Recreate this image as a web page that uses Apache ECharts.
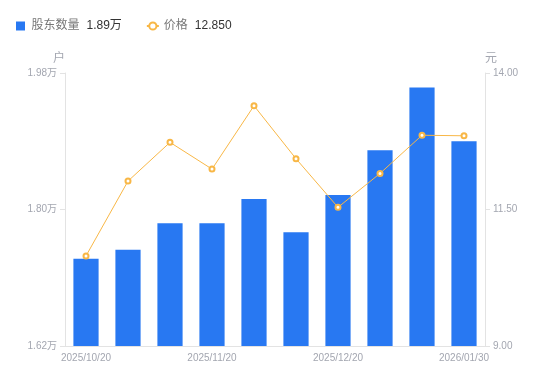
<!DOCTYPE html>
<html><head><meta charset="utf-8">
<script src="https://cdn.jsdelivr.net/npm/echarts@6/dist/echarts.min.js"></script>
<style>html,body{margin:0;padding:0;background:#fff}#c{width:550px;height:381px}</style>
</head><body><div id="c"></div>
<script>
const categories = ['2025/10/20','2025/10/31','2025/11/10','2025/11/20','2025/11/30','2025/12/10','2025/12/20','2025/12/31','2026/01/20','2026/01/30'];
const holders = [17350, 17470, 17820, 17820, 18140, 17700, 18190, 18780, 19610, 18900];
const prices = [10.65, 12.02, 12.73, 12.24, 13.40, 12.43, 11.54, 12.16, 12.86, 12.85];
const holderName = '股东数量';
const priceName = '价格';
const holderUnit = '户';
const priceUnit = '元';

const font = "Arial, 'Liberation Sans', 'Noto Sans CJK SC', sans-serif";
const chart = echarts.init(document.getElementById('c'), null, {renderer: 'canvas'});
const lastHolder = (holders[holders.length - 1] / 10000).toFixed(2) + '万';
const lastPrice = prices[prices.length - 1].toFixed(3);
chart.setOption({
  animation: false,
  textStyle: {fontFamily: font},
  legend: {
    left: 11, top: 15,
    itemWidth: 12, itemHeight: 9, itemGap: 24,
    symbolKeepAspect: true,
    data: [
      {name: holderName, icon: 'path://M0 0H9V9H0Z'},
      {name: priceName}
    ],
    formatter: function (n) {
      return '{n|' + n + '}{v|' + (n === holderName ? lastHolder : lastPrice) + '}';
    },
    textStyle: {
      fontFamily: font,
      rich: {
        n: {fontSize: 12, color: '#777', padding: [0, 7, 0, 0], fontFamily: font},
        v: {fontSize: 12, color: '#333', fontFamily: font}
      }
    }
  },
  grid: {left: 65, right: 65, top: 73, bottom: 35},
  xAxis: {
    type: 'category',
    data: categories,
    axisLine: {lineStyle: {color: '#E3E3E3'}},
    axisTick: {show: false},
    axisLabel: {interval: 2, color: '#A3A6B0', fontSize: 10, margin: 7, fontFamily: font}
  },
  yAxis: [
    {
      type: 'value', name: holderUnit, min: 16200, max: 19800, interval: 1800,
      nameGap: 8,
      nameTextStyle: {color: '#A3A6B0', fontSize: 12, align: 'right', fontFamily: font},
      axisLine: {show: true, lineStyle: {color: '#E3E3E3'}},
      axisTick: {show: true, length: 5, lineStyle: {color: '#E3E3E3'}},
      splitLine: {show: false},
      axisLabel: {color: '#A3A6B0', fontSize: 10, fontFamily: font,
        formatter: v => (v / 10000).toFixed(2) + '万'}
    },
    {
      type: 'value', name: priceUnit, min: 9, max: 14, interval: 2.5,
      nameGap: 8,
      nameTextStyle: {color: '#A3A6B0', fontSize: 12, align: 'left', fontFamily: font},
      axisLine: {show: true, lineStyle: {color: '#E3E3E3'}},
      axisTick: {show: true, length: 5, lineStyle: {color: '#E3E3E3'}},
      splitLine: {show: false},
      axisLabel: {color: '#A3A6B0', fontSize: 10, fontFamily: font,
        formatter: v => v.toFixed(2)}
    }
  ],
  series: [
    {
      name: holderName, type: 'bar', yAxisIndex: 0, data: holders,
      barWidth: '60%',
      itemStyle: {color: '#2878F2'}
    },
    {
      name: priceName, type: 'line', yAxisIndex: 1, data: prices,
      symbol: 'emptyCircle', symbolSize: 5,
      lineStyle: {color: '#F8B746', width: 1},
      itemStyle: {color: '#F8B746', borderWidth: 2}
    }
  ]
});
</script></body></html>
